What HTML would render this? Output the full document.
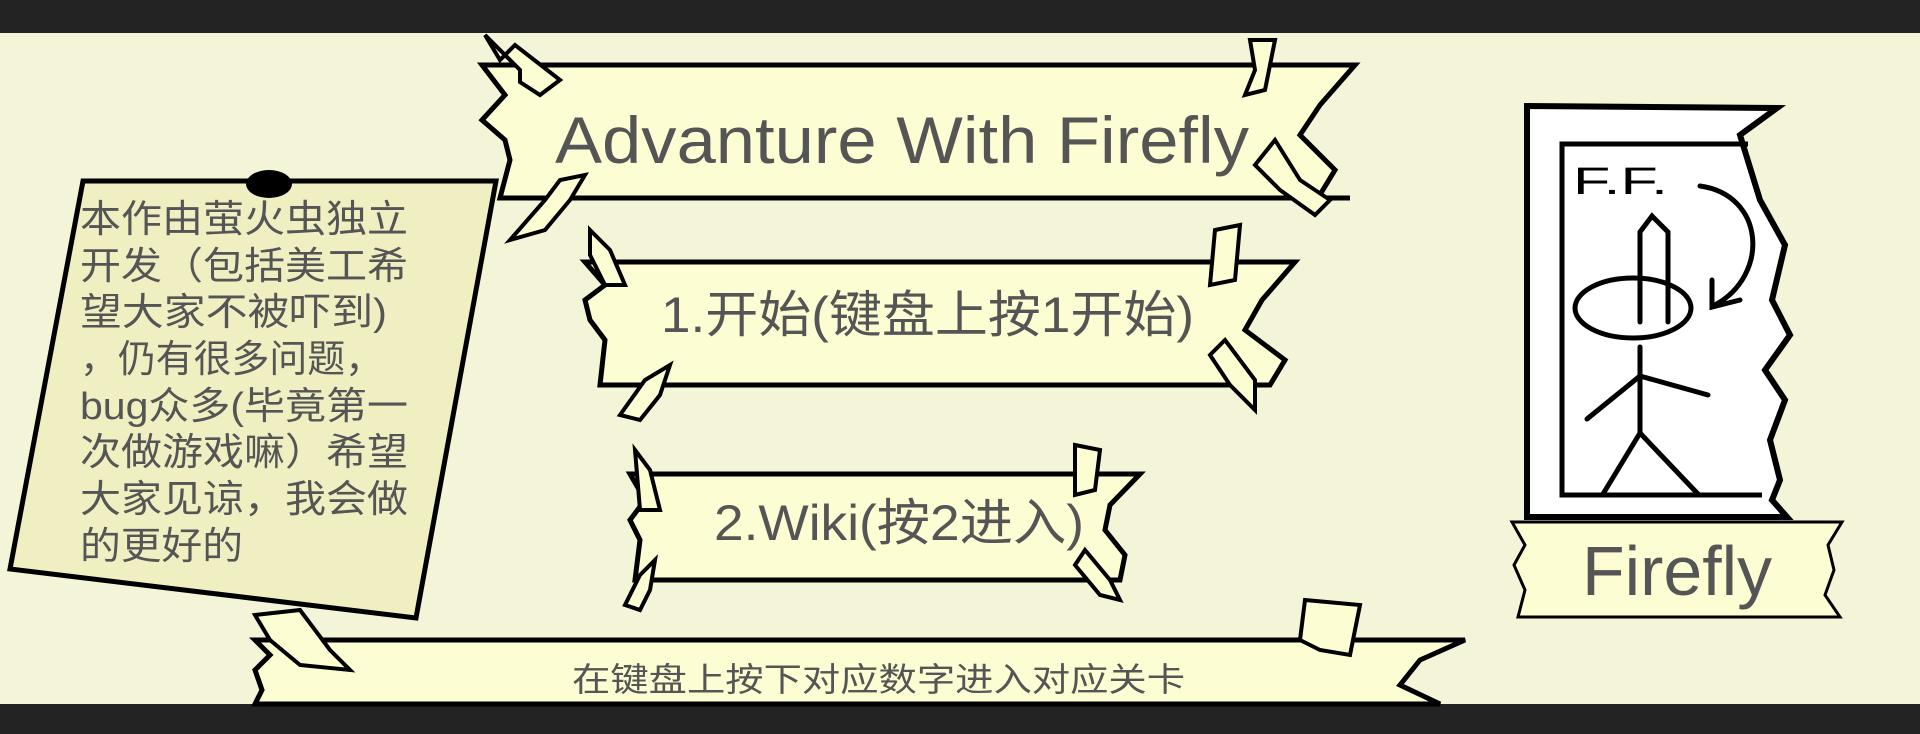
<!DOCTYPE html>
<html><head><meta charset="utf-8"><style>
html,body{margin:0;padding:0;background:#f4f4d8;}
svg{display:block}
</style></head><body>
<svg width="1920" height="734" viewBox="0 0 1920 734" xmlns="http://www.w3.org/2000/svg" font-family="Liberation Sans, Noto Sans CJK SC, sans-serif">
<rect width="1920" height="734" fill="#f4f4d8"/>
<rect width="1920" height="33" fill="#232323"/>
<rect y="704" width="1920" height="30" fill="#232323"/>

<g stroke="#000" stroke-width="5" stroke-linejoin="miter" fill="#fdfdd3">
<polygon points="482,65 1355,65 1320,105 1300,135 1335,170 1318,198 1350,198 500,198 510,160 505,140 482,120 505,95"/>
<polygon points="585,262 1295,262 1262,300 1245,330 1285,360 1270,385 600,385 605,340 590,320 585,300 605,285"/>
<polygon points="630,474 1140,474 1110,505 1105,530 1125,555 1120,580 635,580 640,540 630,520 645,500"/>
<polygon points="255,640 1465,640 1420,660 1400,685 1440,704 255,704 262,690 255,670 270,655"/>
<polygon points="1512,522 1842,522 1828,545 1834,570 1825,595 1840,617 1518,617 1525,590 1514,565 1525,545" stroke-width="3"/>
</g>

<g stroke="#000" stroke-width="4" fill="#fdfdd3">
<polygon points="485,35 500,60 515,45 560,80 540,95 520,82 520,70"/>
<polygon points="585,175 570,200 545,230 510,240 545,200 560,180"/>
<polygon points="1250,40 1275,40 1265,90 1245,95 1255,70"/>
<polygon points="1275,140 1300,180 1330,200 1315,215 1280,190 1255,165"/>
<polygon points="590,230 610,250 625,285 605,285 590,255"/>
<polygon points="670,365 660,395 640,420 620,415 645,380"/>
<polygon points="1215,230 1240,225 1235,280 1210,285"/>
<polygon points="1225,340 1255,380 1255,410 1230,385 1210,355"/>
<polygon points="635,450 650,470 660,510 640,510"/>
<polygon points="655,560 650,590 640,610 625,605 640,575"/>
<polygon points="1075,445 1100,450 1095,490 1075,495"/>
<polygon points="1085,550 1110,580 1120,600 1100,595 1075,565"/>
<polygon points="255,615 300,610 330,650 350,670 300,665 270,640"/>
<polygon points="1305,600 1360,605 1350,655 1320,650 1300,640"/>
</g>

<polygon points="83,181 496,181 416,618 10,569" fill="#efefc2" stroke="#000" stroke-width="5"/>
<ellipse cx="269" cy="184" rx="23" ry="14" fill="#000"/>
<g fill="#555" font-size="38" font-family="Liberation Sans, Noto Sans CJK SC, sans-serif">
<text x="80" y="232" textLength="328" lengthAdjust="spacingAndGlyphs">本作由萤火虫独立</text>
<text x="80" y="279" textLength="328" lengthAdjust="spacingAndGlyphs">开发（包括美工希</text>
<text x="80" y="325" textLength="307" lengthAdjust="spacingAndGlyphs">望大家不被吓到)</text>
<text x="80" y="372" textLength="303" lengthAdjust="spacingAndGlyphs">，仍有很多问题，</text>
<text x="80" y="419" textLength="328" lengthAdjust="spacingAndGlyphs">bug众多(毕竟第一</text>
<text x="80" y="465" textLength="328" lengthAdjust="spacingAndGlyphs">次做游戏嘛）希望</text>
<text x="80" y="512" textLength="328" lengthAdjust="spacingAndGlyphs">大家见谅，我会做</text>
<text x="80" y="559" textLength="163" lengthAdjust="spacingAndGlyphs">的更好的</text>
</g>

<g fill="#555">
<text x="555" y="163" font-size="66" textLength="694" lengthAdjust="spacingAndGlyphs">Advanture With Firefly</text>
<text x="661" y="332" font-size="50" textLength="533" lengthAdjust="spacingAndGlyphs">1.开始(键盘上按1开始)</text>
<text x="714" y="540" font-size="50" textLength="370" lengthAdjust="spacingAndGlyphs">2.Wiki(按2进入)</text>
<text x="572" y="691" font-size="33" textLength="613" lengthAdjust="spacingAndGlyphs">在键盘上按下对应数字进入对应关卡</text>
<text x="1582" y="595" font-size="70" textLength="190" lengthAdjust="spacingAndGlyphs">Firefly</text>
</g>

<polygon points="1527,106 1777,108 1740,135 1760,200 1785,245 1772,300 1790,335 1765,370 1785,400 1770,440 1780,480 1772,500 1787,517 1527,517" fill="#fff" stroke="#000" stroke-width="6"/>
<polyline points="1748,144 1562,144 1562,495 1762,495" fill="none" stroke="#000" stroke-width="5"/>
<g stroke="#000" stroke-width="5" fill="none" stroke-linecap="round">
<ellipse cx="1633" cy="308" rx="58" ry="30"/>
<path d="M1640,322 L1640,232 L1652,216 L1668,232 L1668,322"/>
<line x1="1640" y1="347" x2="1640" y2="433"/>
<line x1="1640" y1="376" x2="1587" y2="419"/>
<line x1="1640" y1="376" x2="1708" y2="395"/>
<line x1="1640" y1="433" x2="1603" y2="494"/>
<line x1="1640" y1="433" x2="1698" y2="494"/>
<path d="M1700,186 C1765,195 1770,275 1715,305"/>
<path d="M1712,280 L1712,307 L1740,300"/>
</g>
<text x="1573" y="194" font-size="38" fill="#000" textLength="95" lengthAdjust="spacingAndGlyphs">F.F.</text>
</svg>
</body></html>
